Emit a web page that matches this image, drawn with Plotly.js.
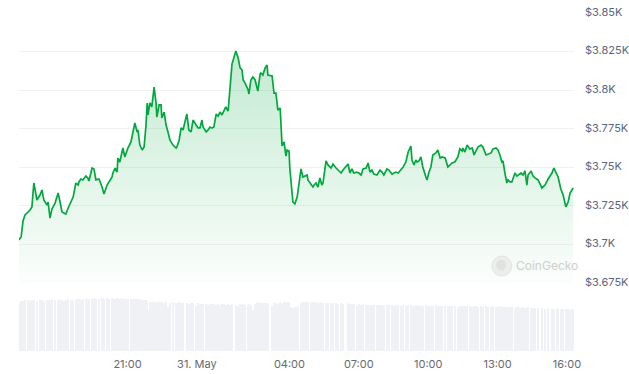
<!DOCTYPE html>
<html>
<head>
<meta charset="utf-8">
<script src="https://cdn.plot.ly/plotly-3.0.1.min.js"></script>
<style>
html,body{margin:0;padding:0;background:#fff;}
#chart{width:629px;height:374px;}
</style>
</head>
<body>
<div id="chart"></div>
<script>
// ETH price, 30–31 May 2024 (USD)
const day1Date = '2024-05-30';
const day2Date = '2024-05-31';
const day1Times = ['16:18','16:24','16:29','16:34','16:42','16:47','16:52','16:57','17:05','17:13','17:18','17:23',
'17:31','17:34','17:39','17:44','17:52','18:00','18:05','18:10','18:15','18:20','18:26','18:33',
'18:39','18:46','18:52','18:54','18:59','19:04','19:12','19:17','19:20','19:28','19:33','19:38',
'19:46','19:54','19:59','20:07','20:12','20:20','20:22','20:28','20:33','20:35','20:40','20:46',
'20:48','20:53','20:59','21:01','21:09','21:14','21:19','21:25','21:27','21:32','21:38','21:43',
'21:48','21:51','21:53','21:58','22:03','22:09','22:14','22:16','22:22','22:27','22:29','22:35',
'22:40','22:45','22:50','22:58','23:06','23:08','23:14','23:19','23:24','23:34','23:39','23:45',
'23:50','23:58'];
const day2Times = ['00:03','00:08','00:13','00:16','00:24','00:29','00:34','00:39','00:44','00:50','00:55','01:00',
'01:05','01:10','01:15','01:21','01:26','01:31','01:41','01:47','01:52','01:57','02:00','02:05',
'02:13','02:15','02:20','02:25','02:31','02:36','02:38','02:44','02:46','02:51','02:57','03:02',
'03:04','03:15','03:20','03:25','03:30','03:36','03:38','03:41','03:46','03:51','03:54','03:59',
'04:01','04:07','04:09','04:14','04:20','04:22','04:30','04:35','04:40','04:46','04:48','04:56',
'05:01','05:04','05:09','05:14','05:19','05:24','05:27','05:35','05:40','05:48','05:53','06:01',
'06:06','06:14','06:19','06:32','06:37','06:42','06:47','06:55','07:00','07:06','07:11','07:19',
'07:24','07:29','07:34','07:39','07:47','07:50','07:55','08:00','08:05','08:13','08:18','08:26',
'08:31','08:36','08:42','08:49','08:55','09:02','09:08','09:15','09:18','09:23','09:28','09:31',
'09:36','09:41','09:46','09:54','09:57','10:02','10:07','10:12','10:20','10:25','10:31','10:36',
'10:44','10:51','10:57','11:02','11:09','11:17','11:22','11:28','11:30','11:35','11:41','11:48',
'11:54','11:59','12:04','12:09','12:17','12:22','12:30','12:35','12:43','12:48','12:56','13:01',
'13:06','13:11','13:14','13:19','13:24','13:27','13:32','13:37','13:45','13:50','13:55','14:01',
'14:06','14:11','14:16','14:19','14:27','14:32','14:37','14:45','14:55','15:03','15:11','15:21',
'15:26','15:34','15:37','15:44','15:50','15:57','16:03','16:08','16:13','16:16'];

const prices = [
3702.9,3704.8,3715.2,3719.1,3721.0,3722.3,3724.3,3739.8,3728.8,3732.0,3735.3,3728.8,
3725.6,3727.5,3717.1,3723.0,3726.8,3733.3,3727.5,3721.0,3720.4,3719.7,3723.6,3727.5,
3730.7,3739.8,3738.5,3740.5,3742.4,3741.8,3744.3,3743.1,3741.1,3749.5,3748.9,3741.8,
3742.4,3737.2,3732.7,3738.5,3740.5,3743.7,3746.3,3749.5,3746.9,3756.0,3753.4,3761.2,
3762.5,3756.7,3761.2,3762.5,3766.4,3772.9,3778.7,3772.9,3774.2,3764.4,3761.2,3763.1,
3777.4,3791.7,3783.9,3791.7,3789.1,3802.0,3791.7,3782.6,3790.4,3790.4,3781.9,3785.8,
3777.4,3772.9,3767.7,3764.4,3762.5,3763.1,3767.7,3775.5,3774.2,3784.5,3774.2,3772.9,
3780.6,3777.4,
3775.5,3775.5,3780.6,3776.1,3772.9,3774.2,3776.1,3775.5,3776.1,3784.5,3783.2,3785.8,
3783.9,3786.5,3789.1,3786.5,3803.3,3816.9,3825.4,3820.8,3814.4,3813.1,3806.6,3804.6,
3800.1,3797.5,3806.6,3808.5,3806.6,3802.0,3799.4,3810.5,3811.1,3809.8,3814.4,3816.3,
3809.8,3809.2,3798.1,3798.1,3787.1,3788.4,3775.5,3763.8,3766.4,3757.3,3761.2,3760.6,
3749.5,3735.3,3727.5,3726.2,3730.7,3734.0,3748.9,3743.7,3744.3,3745.0,3741.8,3738.5,
3737.2,3738.5,3739.8,3737.2,3743.1,3738.5,3739.8,3754.1,3751.5,3749.5,3752.1,3749.5,
3748.2,3746.3,3748.2,3752.1,3746.3,3748.9,3746.3,3746.9,3746.3,3745.0,3748.9,3749.5,
3752.8,3746.9,3748.2,3745.6,3745.0,3746.3,3748.2,3746.9,3745.0,3748.9,3748.2,3745.6,
3746.3,3746.9,3746.3,3748.2,3750.2,3753.4,3759.9,3763.8,3754.7,3751.5,3754.7,3753.4,
3754.1,3756.7,3750.2,3743.7,3741.8,3746.9,3750.2,3758.0,3759.3,3761.2,3756.0,3756.7,
3756.0,3750.2,3751.5,3752.8,3753.4,3756.7,3761.9,3760.6,3762.5,3759.9,3764.4,3761.9,
3762.5,3758.0,3760.6,3763.1,3764.4,3763.1,3758.0,3758.6,3759.3,3761.9,3762.5,3761.2,
3758.0,3753.4,3754.1,3746.3,3739.8,3741.8,3740.5,3740.5,3746.3,3744.3,3745.0,3746.3,
3745.0,3747.6,3738.5,3745.0,3747.6,3744.3,3743.1,3741.8,3736.6,3738.5,3742.4,3746.3,
3749.5,3745.0,3743.7,3735.9,3732.0,3724.3,3727.5,3733.3,3735.9,3736.6];

// 24h volume (billion USD)
const volumes = [
14.4,15.0,15.1,15.3,15.2,14.9,15.2,15.4,15.1,15.3,15.2,15.0,
15.3,15.4,15.2,15.5,15.4,15.3,15.5,15.4,15.1,15.4,15.5,15.3,
15.4,15.6,15.5,15.6,15.4,15.7,15.6,15.5,15.7,15.6,15.8,15.7,
15.7,15.8,15.6,15.8,15.7,15.8,15.6,15.7,15.8,15.5,15.7,15.8,
15.6,15.7,15.5,15.6,15.7,15.6,15.5,15.6,15.4,15.5,15.3,15.4,
15.2,15.0,12.4,14.6,14.8,14.7,14.5,14.6,14.8,14.6,14.7,14.5,
14.6,13.3,14.5,14.6,14.4,14.5,14.6,14.3,14.5,14.4,14.2,14.3,
14.4,13.6,14.3,14.1,14.0,14.2,14.1,13.9,14.0,14.1,14.0,13.9,
14.0,13.9,14.1,14.0,13.9,14.0,13.8,14.0,13.9,13.6,14.0,13.9,
14.0,13.9,13.8,14.0,13.9,12.4,14.2,14.4,14.6,14.4,14.5,14.3,
14.4,14.3,14.2,13.5,14.3,14.4,14.2,14.8,14.5,14.2,14.7,14.8,
14.6,14.7,13.2,13.0,12.9,13.1,13.3,13.6,14.5,14.6,14.7,14.8,
14.6,14.7,14.8,14.6,14.7,14.5,14.6,14.4,14.5,14.4,14.3,14.5,
14.4,14.3,14.2,14.4,14.1,14.3,14.2,14.1,14.0,13.9,14.0,13.8,
14.0,13.9,13.8,13.9,13.7,13.8,13.9,13.7,13.8,13.7,13.6,13.8,
13.7,13.8,13.6,13.7,13.8,13.6,13.7,13.5,13.8,13.7,13.6,13.4,
13.7,13.6,13.7,13.5,13.6,13.7,13.5,13.6,13.4,13.6,13.7,13.5,
13.6,13.4,13.5,13.6,13.4,13.5,13.6,13.3,13.5,13.4,13.6,13.5,
13.4,13.5,13.3,13.4,13.5,13.3,13.4,13.2,13.4,13.3,13.1,13.4,
13.3,13.2,13.4,13.2,13.3,13.1,13.2,13.0,13.2,13.1,13.0,13.2,
13.1,13.0,13.1,12.9,13.0,13.1,12.9,13.0,12.8,12.9,12.8,12.7,
12.8,12.7,12.6,12.8,12.6,12.7,12.5,12.6,12.5,12.4,12.5,12.4];

const priceTicks = [3675,3700,3725,3750,3775,3800,3825,3850];
const priceTickLabels = ['$3.675K','$3.7K','$3.725K','$3.75K','$3.775K','$3.8K','$3.825K','$3.85K'];
const timeTicks = ['2024-05-30 21:00','2024-05-31 00:00','2024-05-31 04:00','2024-05-31 07:00','2024-05-31 10:00','2024-05-31 13:00','2024-05-31 16:00'];
const timeTickLabels = ['21:00','31. May','04:00','07:00','10:00','13:00','16:00'];

const times = day1Times.map(t => day1Date + ' ' + t).concat(day2Times.map(t => day2Date + ' ' + t));

const priceTrace = {
  x: times, y: prices, type: 'scatter', mode: 'lines',
  xaxis: 'x', yaxis: 'y',
  line: {color: '#00a83e', width: 1.7, shape: 'linear'},
  fill: 'tozeroy',
  fillgradient: {type: 'vertical', start: 3675, stop: 3828,
    colorscale: [[0, 'rgba(0,168,62,0.015)'], [1, 'rgba(0,168,62,0.24)']]},
  hoverinfo: 'skip'
};
const volTrace = {
  x: times, y: volumes, type: 'bar',
  xaxis: 'x', yaxis: 'y2',
  width: 230000,
  marker: {color: '#eff1f5', line: {width: 0}},
  hoverinfo: 'skip'
};

const layout = {
  width: 629, height: 374,
  margin: {l: 19, r: 55, t: 13, b: 23, pad: 0},
  paper_bgcolor: '#ffffff', plot_bgcolor: '#ffffff',
  showlegend: false,
  bargap: 0,
  font: {family: 'Inter, "Open Sans", sans-serif', size: 11, color: '#58667e'},
  xaxis: {
    type: 'date', anchor: 'y2',
    range: ['2024-05-30 16:18:30', '2024-05-31 16:18:12'],
    tickmode: 'array', tickvals: timeTicks, ticktext: timeTickLabels,
    showgrid: false, zeroline: false, showline: false, ticks: '',
    tickfont: {family: 'Inter, sans-serif', size: 11, color: '#666a70'},
    ticklabelstandoff: 5
  },
  yaxis: {
    domain: [0.2012, 1], range: [3675, 3850], side: 'right',
    tickmode: 'array', tickvals: priceTicks, ticktext: priceTickLabels,
    showgrid: true, gridcolor: '#f1f2f3', gridwidth: 1,
    zeroline: false, showline: false, ticks: '',
    tickfont: {family: 'Inter, sans-serif', size: 11, color: '#58667e'},
    ticklabelstandoff: 10, ticklabelshift: -1
  },
  yaxis2: {
    domain: [0, 0.1775], range: [0, 18],
    showgrid: false, zeroline: false, showline: false, showticklabels: false, ticks: ''
  },
  shapes: [
    {type: 'circle', xref: 'paper', yref: 'paper', x0: 0.852, x1: 0.888, y0: 0.2219, y1: 0.2811,
     fillcolor: 'rgba(225,225,225,0.55)', line: {color: 'rgba(215,215,215,0.6)', width: 1}, layer: 'above'},
    {type: 'circle', xref: 'paper', yref: 'paper', x0: 0.860, x1: 0.878, y0: 0.238, y1: 0.270,
     fillcolor: 'rgba(210,210,210,0.45)', line: {width: 0}, layer: 'above'}
  ],
  annotations: [
    {xref: 'paper', yref: 'paper', x: 0.892, y: 0.253, xanchor: 'left', yanchor: 'middle',
     text: 'CoinGecko', showarrow: false,
     font: {family: 'Inter, sans-serif', size: 12, color: '#cfcfcf'}}
  ]
};

Plotly.newPlot('chart', [volTrace, priceTrace], layout, {displayModeBar: false, staticPlot: true});
</script>
</body>
</html>
